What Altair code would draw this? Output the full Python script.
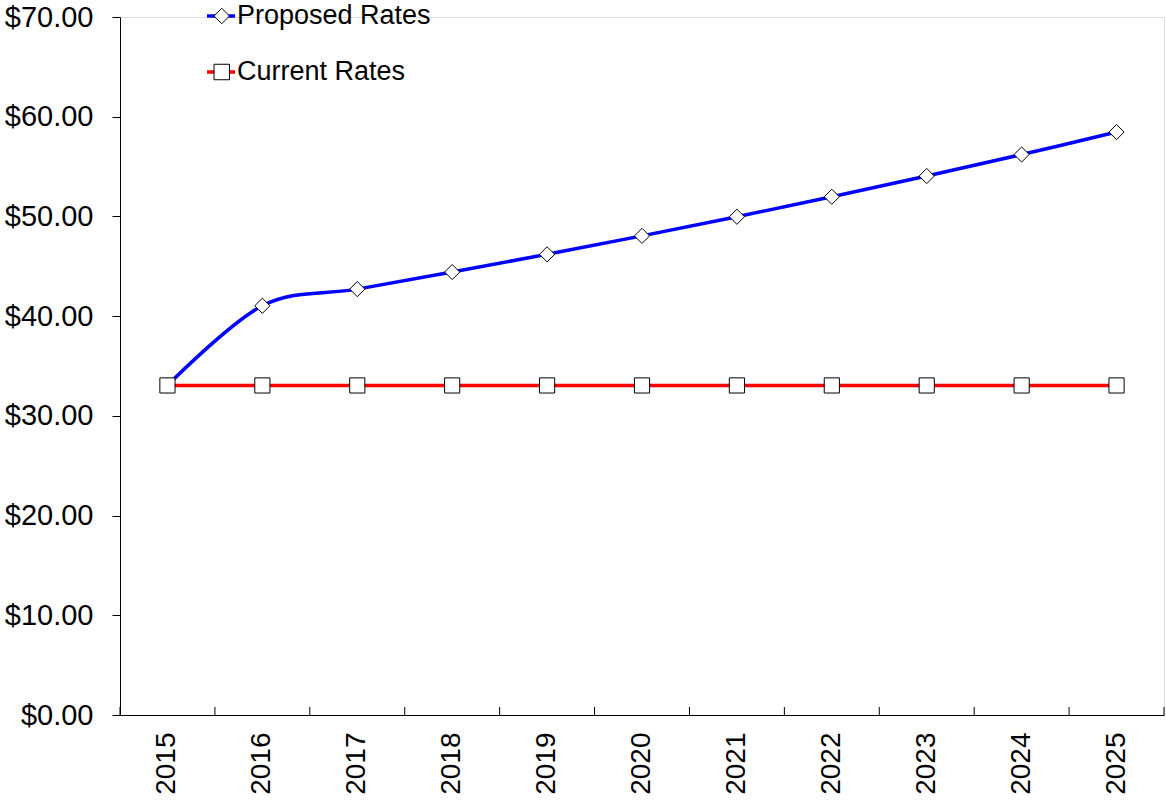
import altair as alt
import pandas as pd

# Rate schedule, one value per year
years = ["2015", "2016", "2017", "2018", "2019", "2020",
         "2021", "2022", "2023", "2024", "2025"]
proposed_rates = [33.05, 41.04, 42.71, 44.42, 46.20, 48.05,
                  49.97, 51.97, 54.05, 56.21, 58.46]
current_rates = [33.05, 33.05, 33.05, 33.05, 33.05, 33.05,
                 33.05, 33.05, 33.05, 33.05, 33.05]

series_names = ["Proposed Rates", "Current Rates"]
series_colors = ["#0000FF", "#FF0000"]
series_shapes = ["diamond", "square"]
y_tick_values = [0, 10, 20, 30, 40, 50, 60, 70]

FONT = "Liberation Sans"
PLOT_W = 1044
PLOT_H = 698
TICK_LEN = 8

rows = []
for name, values in zip(series_names, [proposed_rates, current_rates]):
    for year, value in zip(years, values):
        rows.append({"year": year, "value": value, "series": name, "marker": name})
df = pd.DataFrame(rows)
years_df = pd.DataFrame({"year": years})

x_scale = alt.Scale(type="band", paddingInner=0, paddingOuter=0)
y_scale = alt.Scale(domain=[0, 70], nice=False, zero=True)

# Category axis: rotated year labels, ticks drawn separately as inward rules
x_axis = alt.Axis(
    orient="bottom", title=None, ticks=False, domain=True,
    domainColor="black", domainWidth=1,
    labelAngle=-90, labelFont=FONT, labelFontSize=28, labelColor="black",
    labelPadding=17, grid=False,
)
y_axis = alt.Axis(
    orient="left", values=y_tick_values, format="$.2f", title=None, grid=False,
    labelFont=FONT, labelFontSize=29, labelColor="black", labelPadding=19,
    tickSize=8, tickColor="black", tickWidth=1,
    domainColor="black", domainWidth=1,
)

x_enc = alt.X("year:N", sort=years, scale=x_scale, axis=x_axis)
y_enc = alt.Y("value:Q", scale=y_scale, axis=y_axis)

# Legend drawn in two stacked pieces: the coloured line segment with the label,
# and the marker symbol centred on top of it
line_legend = alt.Legend(
    orient="none", legendX=85, legendY=-17, title=None,
    symbolType="stroke", symbolSize=784, symbolStrokeWidth=3.5,
    labelFont=FONT, labelFontSize=27, labelColor="black",
    labelOffset=0, labelLimit=0, rowPadding=27, padding=0,
    zindex=0,
)
marker_legend = alt.Legend(
    orient="none", legendX=93.25, legendY=-9.5, title=None,
    symbolSize=240, symbolStrokeWidth=1, symbolOpacity=1,
    labelExpr="''", labelFontSize=1, labelLimit=0, labelOffset=0,
    rowPadding=35, padding=0,
    zindex=1,
)

lines = alt.Chart(df).mark_line(interpolate="cardinal", strokeWidth=3.5).encode(
    x=x_enc,
    y=y_enc,
    color=alt.Color(
        "series:N",
        scale=alt.Scale(domain=series_names, range=series_colors),
        legend=line_legend,
    ),
)

points = alt.Chart(df).mark_point(
    filled=True, fill="white", stroke="black", strokeWidth=1,
    size=230, opacity=1, fillOpacity=1, strokeOpacity=1,
).encode(
    x=x_enc,
    y=y_enc,
    shape=alt.Shape(
        "marker:N", sort=series_names,
        scale=alt.Scale(range=series_shapes),
        legend=marker_legend,
    ),
)

# Short inward ticks on the category boundaries
band_ticks = alt.Chart(years_df).mark_rule(color="black", strokeWidth=1).encode(
    x=alt.X("year:N", sort=years, scale=x_scale, axis=x_axis, bandPosition=0),
    y=alt.value(PLOT_H - TICK_LEN),
    y2=alt.value(PLOT_H),
)
end_tick = alt.Chart(years_df).transform_filter(
    alt.datum.year == years[-1]
).mark_rule(color="black", strokeWidth=1).encode(
    x=alt.X("year:N", sort=years, scale=x_scale, axis=x_axis, bandPosition=1),
    y=alt.value(PLOT_H - TICK_LEN),
    y2=alt.value(PLOT_H),
)

chart = alt.layer(band_ticks, end_tick, lines, points).properties(
    width=PLOT_W,
    height=PLOT_H,
    autosize=alt.AutoSizeParams(type="none"),
    padding={"left": 120, "top": 17, "right": 2, "bottom": 90},
).configure_view(strokeWidth=0).configure(background="white")

chart.save("out.html", embed_options={"renderer": "svg", "actions": False})
